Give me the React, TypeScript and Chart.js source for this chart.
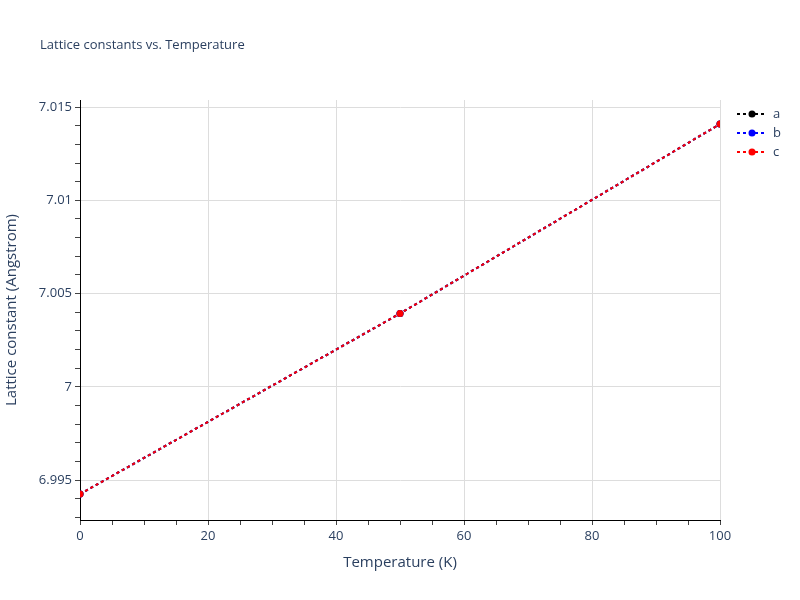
import React, { useEffect, useRef } from "react";
import { Chart, registerables } from "chart.js";

Chart.register(...registerables);

const temperatures = [0, 50, 100];
const seriesA = [6.99425, 7.00393, 7.01409];
const seriesB = [6.99425, 7.00393, 7.01409];
const seriesC = [6.99425, 7.00393, 7.01409];
const seriesNames = ["a", "b", "c"];
const seriesColors = ["#000000", "#0000ff", "#ff0000"];

const xTickValues = [0, 5, 10, 15, 20, 25, 30, 35, 40, 45, 50, 55, 60, 65, 70, 75, 80, 85, 90, 95, 100];
const xMajorLabels: Record<string, string> = { "0": "0", "20": "20", "40": "40", "60": "60", "80": "80", "100": "100" };
const yTickValues = [
  6.993, 6.994, 6.995, 6.996, 6.997, 6.998, 6.999, 7.0, 7.001, 7.002, 7.003, 7.004, 7.005,
  7.006, 7.007, 7.008, 7.009, 7.01, 7.011, 7.012, 7.013, 7.014, 7.015,
];
const yMajorLabels: Record<string, string> = {
  "6.995": "6.995",
  "7": "7",
  "7.005": "7.005",
  "7.01": "7.01",
  "7.015": "7.015",
};

const FONT = '"Open Sans", Verdana, Arial, sans-serif';
const TXT = "#2a3f5f";
const GRID = "#dddddd";

const textPlugin = {
  id: "texts",
  afterDraw(chart: any) {
    const ctx = chart.ctx;
    const area = chart.chartArea;
    ctx.save();
    ctx.fillStyle = TXT;
    ctx.font = `13px ${FONT}`;
    ctx.textAlign = "left";
    ctx.textBaseline = "middle";
    ctx.fillText("Lattice constants vs. Temperature", 40, 45);

    ctx.font = `15px ${FONT}`;
    ctx.textAlign = "center";
    ctx.fillText("Temperature (K)", (area.left + area.right) / 2, 563);
    ctx.save();
    ctx.translate(12, (area.top + area.bottom) / 2);
    ctx.rotate(-Math.PI / 2);
    ctx.fillText("Lattice constant (Angstrom)", 0, 0);
    ctx.restore();

    // legend
    chart.data.datasets.forEach((ds: any, i: number) => {
      const y = 114 + i * 19;
      ctx.strokeStyle = ds.borderColor;
      ctx.lineWidth = 2;
      ctx.setLineDash([3, 3]);
      ctx.beginPath();
      ctx.moveTo(737, y);
      ctx.lineTo(767, y);
      ctx.stroke();
      ctx.setLineDash([]);
      ctx.fillStyle = ds.backgroundColor;
      ctx.beginPath();
      ctx.arc(752, y, 3.5, 0, Math.PI * 2);
      ctx.fill();
      ctx.fillStyle = TXT;
      ctx.font = `13px ${FONT}`;
      ctx.textAlign = "left";
      ctx.fillText(ds.label, 773, y);
    });
    ctx.restore();
  },
};

export default function App() {
  const ref = useRef<HTMLCanvasElement>(null);
  useEffect(() => {
    if (!ref.current) return;
    const allSeries = [seriesA, seriesB, seriesC];
    const chart = new Chart(ref.current, {
      type: "line",
      data: {
        datasets: allSeries.map((s, i) => ({
          label: seriesNames[i],
          data: temperatures.map((t, j) => ({ x: t, y: s[j] })),
          borderColor: seriesColors[i],
          backgroundColor: seriesColors[i],
          borderWidth: 2,
          borderDash: [3, 3],
          pointRadius: 3.5,
          pointBorderWidth: 0,
          pointHoverRadius: 3.5,
          tension: 0,
          fill: false,
          order: allSeries.length - i,
        })),
      },
      options: {
        animation: false,
        responsive: false,
        maintainAspectRatio: false,
        layout: { padding: { left: 0, right: 80, top: 100, bottom: 0 } },
        plugins: {
          legend: { display: false },
          title: { display: false },
          tooltip: { enabled: false },
        },
        scales: {
          x: {
            type: "linear",
            min: 0,
            max: 100,
            afterBuildTicks: (scale: any) => {
              scale.ticks = xTickValues.map((v) => ({ value: v }));
            },
            afterFit: (scale: any) => {
              scale.height = 80;
            },
            ticks: {
              autoSkip: false,
              maxRotation: 0,
              color: TXT,
              font: { family: FONT, size: 13 },
              padding: 3,
              callback: (v: any) => xMajorLabels[String(v)] ?? "",
            },
            grid: {
              color: (c: any) => (xMajorLabels[String(c.tick?.value)] !== undefined && c.tick?.value !== 0 ? GRID : "rgba(0,0,0,0)"),
              lineWidth: 1,
              tickColor: "#444444",
              tickLength: 5,
              drawTicks: true,
            },
            border: { display: true, color: "#000000", width: 1 },
          },
          y: {
            type: "linear",
            min: 6.99286,
            max: 7.01538,
            afterBuildTicks: (scale: any) => {
              scale.ticks = yTickValues.map((v) => ({ value: v }));
            },
            afterFit: (scale: any) => {
              scale.width = 80;
            },
            ticks: {
              autoSkip: false,
              color: TXT,
              font: { family: FONT, size: 13 },
              padding: 3,
              callback: (v: any) => yMajorLabels[String(Number(v))] ?? "",
            },
            grid: {
              color: (c: any) => (yMajorLabels[String(c.tick?.value)] !== undefined ? GRID : "rgba(0,0,0,0)"),
              lineWidth: 1,
              tickColor: "#444444",
              tickLength: 5,
              drawTicks: true,
            },
            border: { display: true, color: "#000000", width: 1 },
          },
        },
      },
      plugins: [textPlugin],
    });
    return () => chart.destroy();
  }, []);
  return (
    <div style={{ position: "fixed", left: 0, top: 0, width: 800, height: 600, background: "#fff" }}>
      <canvas ref={ref} width={800} height={600} style={{ width: 800, height: 600 }} />
    </div>
  );
}
